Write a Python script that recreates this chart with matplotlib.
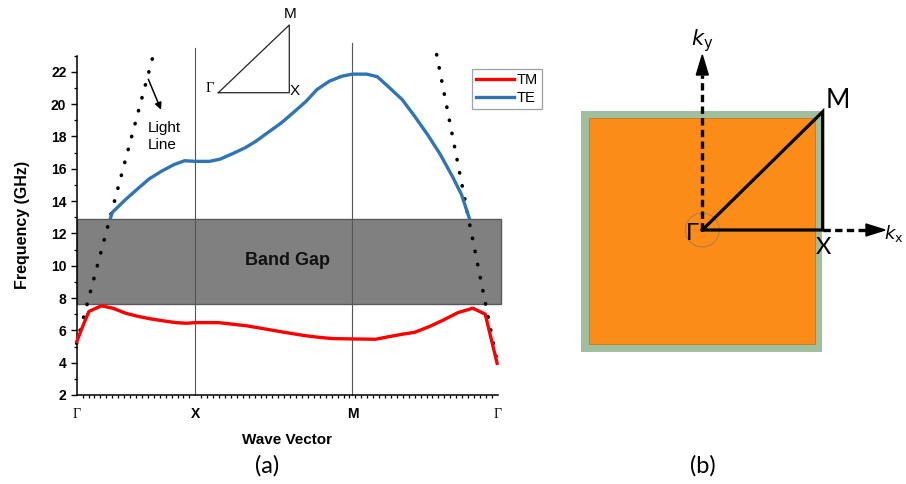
import numpy as np
import matplotlib
matplotlib.use("Agg")
import matplotlib.pyplot as plt
from matplotlib.patches import Rectangle, Polygon, Circle
from matplotlib.ticker import MultipleLocator

plt.rcParams["font.family"] = ["Liberation Sans", "DejaVu Sans"]

# ── band structure data (k-path index: Γ=0, X=20, M=46.5, Γ=71) ─────────────
K_LABELS = ["Γ", "X", "M", "Γ"]
K_POS = [0, 20, 46.5, 71]

te_k = [5.7, 6.0, 8.25, 10.4, 12.2, 14.3, 16.4, 18.2, 20.0, 22.4, 24.2, 26.3,
        28.4, 30.2, 32.3, 34.5, 36.6, 38.7, 40.5, 42.6, 44.7, 46.5, 48.9,
        50.7, 52.8, 54.9, 57.0, 59.2, 61.3, 63.4, 64.9, 66.2]
te_f = [12.95, 13.3, 14.1, 14.8, 15.37, 15.85, 16.26, 16.5, 16.46, 16.46,
        16.6, 16.94, 17.3, 17.7, 18.26, 18.84, 19.5, 20.18, 20.9, 21.42,
        21.73, 21.86, 21.86, 21.7, 21.0, 20.28, 19.25, 18.1, 16.9, 15.5,
        14.4, 12.95]

tm_k = [0.0, 1.0, 2.05, 4.15, 6.1, 8.25, 10.4, 12.5, 14.6, 16.7, 18.5, 20.0,
        23.9, 26.3, 28.7, 31.1, 33.6, 36.0, 38.4, 40.8, 43.2, 46.5, 50.4,
        52.8, 54.9, 57.0, 59.5, 61.9, 64.3, 66.8, 68.9, 69.8, 70.9]
tm_f = [5.3, 6.24, 7.17, 7.52, 7.37, 7.06, 6.86, 6.71, 6.59, 6.48, 6.44,
        6.48, 6.48, 6.38, 6.28, 6.13, 5.97, 5.82, 5.68, 5.57, 5.49, 5.47,
        5.45, 5.62, 5.76, 5.88, 6.24, 6.65, 7.1, 7.37, 7.0, 5.62, 3.96]

light_left_k = [0.0, 12.8]
light_left_f = [5.2, 22.87]
light_right_k = [60.7, 66.2, 71.0]
light_right_f = [23.07, 12.7, 3.86]

GAP_LOW, GAP_HIGH = 7.62, 12.9

W, H = 906, 484
fig = plt.figure(figsize=(W / 100, H / 100), dpi=100)

# ── panel (a): band diagram ──────────────────────────────────────────────────
ax_l, ax_r, ax_b, ax_t = 76.7, 497.7, 395.0, 55.7
ax = fig.add_axes([ax_l / W, 1 - ax_b / H, (ax_r - ax_l) / W, (ax_b - ax_t) / H])
ax.set_xlim(0, 71)
ax.set_ylim(2, 23)
ax.patch.set_alpha(0)
for s in ("top", "right"):
    ax.spines[s].set_visible(False)
for s in ("left", "bottom"):
    ax.spines[s].set_linewidth(1.1)

ax.add_patch(Rectangle((0, GAP_LOW), 71.5, GAP_HIGH - GAP_LOW, facecolor="#808080",
                       edgecolor="#5a5a5a", lw=1.0, zorder=1, clip_on=False))
ax.text(35.5, 10.3, "Band Gap", ha="center", va="center", fontsize=13,
        fontweight="bold", color="#111111", zorder=2)

for kp, top in ((20, 23.5), (46.5, 23.8)):
    ax.plot([kp, kp], [2, top], color="#555555", lw=0.8, zorder=2, clip_on=False)

ax.plot(light_left_k, light_left_f, color="black", lw=2.6, ls=(0, (0.1, 3.6)),
        dash_capstyle="round", zorder=3, clip_on=False)
ax.plot(light_right_k, light_right_f, color="black", lw=2.6, ls=(0, (0.1, 3.6)),
        dash_capstyle="round", zorder=3, clip_on=False)

ax.plot(tm_k, tm_f, color="#ff0000", lw=2.4, label="TM", zorder=4, clip_on=False)
ax.plot(te_k, te_f, color="#2f75b5", lw=2.4, label="TE", zorder=4)

ax.annotate("", xy=(14.4, 19.5), xytext=(11.9, 21.7),
            arrowprops=dict(arrowstyle="-|>", color="black", lw=1.1, mutation_scale=10))
ax.text(11.9, 18.95, "Light\nLine", ha="left", va="top", fontsize=11, linespacing=1.3)

ax.set_xticks(K_POS)
ax.set_xticklabels(K_LABELS)
ax.xaxis.set_minor_locator(MultipleLocator(1))
ax.yaxis.set_major_locator(MultipleLocator(2))
ax.yaxis.set_minor_locator(MultipleLocator(1))
ax.tick_params(axis="both", which="major", direction="out", length=4, width=1.0,
               labelsize=10)
ax.tick_params(axis="both", which="minor", direction="out", length=2.5, width=0.9)
ax.tick_params(axis="x", which="major", length=0, pad=9)
for lab in ax.get_yticklabels() + ax.get_xticklabels():
    lab.set_fontweight("bold")
for i in (0, 3):
    ax.get_xticklabels()[i].set_fontfamily("Liberation Serif")
    ax.get_xticklabels()[i].set_fontweight("normal")
ax.set_ylabel("Frequency (GHz)", fontsize=11.5, fontweight="bold", labelpad=15)
ax.set_xlabel("Wave Vector", fontsize=11, fontweight="bold", labelpad=8)

leg = ax.legend(loc="upper left", bbox_to_anchor=(472.3 / W, 1 - 69.3 / H),
                bbox_transform=fig.transFigure, fontsize=10.5, frameon=True,
                fancybox=False, borderaxespad=0, handlelength=2.6,
                handletextpad=0.2, borderpad=0.25, labelspacing=0.3)
leg.get_frame().set_edgecolor("#888888")
leg.get_frame().set_linewidth(0.9)

# ── overlay in figure pixels: inset triangle, labels, panel (b) ─────────────
ov = fig.add_axes([0, 0, 1, 1])
ov.set_xlim(0, W)
ov.set_ylim(H, 0)
ov.axis("off")
ov.patch.set_alpha(0)

ov.plot([218.3, 289.3, 289.3, 218.3], [92.7, 92.7, 25, 92.7], color="#222222", lw=0.9)
ov.text(214, 88, "Γ", ha="right", va="center", fontsize=10.5, family="Liberation Serif")
ov.text(290, 91, "X", ha="left", va="center", fontsize=11)
ov.text(290, 14, "M", ha="center", va="center", fontsize=11)

ov.text(267, 466, "(a)", ha="center", va="center", fontsize=17, family="Lato")
ov.text(703, 466, "(b)", ha="center", va="center", fontsize=17, family="Lato")

# Brillouin zone
ov.add_patch(Rectangle((581.3, 110.7), 240.7, 241, facecolor="#a0bf9f", edgecolor="none"))
ov.add_patch(Rectangle((589, 118.3), 225.7, 225.7, facecolor="#fa8c17",
                       edgecolor="#c87820", lw=0.6))
ov.add_patch(Circle((702.3, 230), 17, facecolor="none", edgecolor="#b07a50", lw=0.7))

ov.plot([702.3, 702.3], [230, 75], color="black", lw=2.4, ls=(0, (2.2, 1.3)))
ov.add_patch(Polygon([[702.3, 55], [696.3, 75], [708.3, 75]], closed=True, color="black"))
ov.plot([822.7, 866], [230, 230], color="black", lw=2.4, ls=(0, (2.2, 1.3)))
ov.add_patch(Polygon([[885, 230], [866, 224], [866, 236]], closed=True, color="black"))

ov.plot([702.3, 822.7, 822.7, 702.3], [230, 111.7, 230, 230], color="black", lw=2.3,
        solid_joinstyle="miter")

ov.text(826, 101, "M", ha="left", va="center", fontsize=19, family="Lato")
ov.text(699, 233, "Γ", ha="right", va="center", fontsize=17, family="Lato")
ov.text(823, 248, "X", ha="center", va="center", fontsize=17, family="Lato")
ov.text(702.5, 41, r"$k_{\mathrm{y}}$", ha="center", va="center", fontsize=15)
ov.text(884, 233, r"$k_{\mathrm{x}}$", ha="left", va="center", fontsize=13)

fig.savefig("out.png", dpi=100)
